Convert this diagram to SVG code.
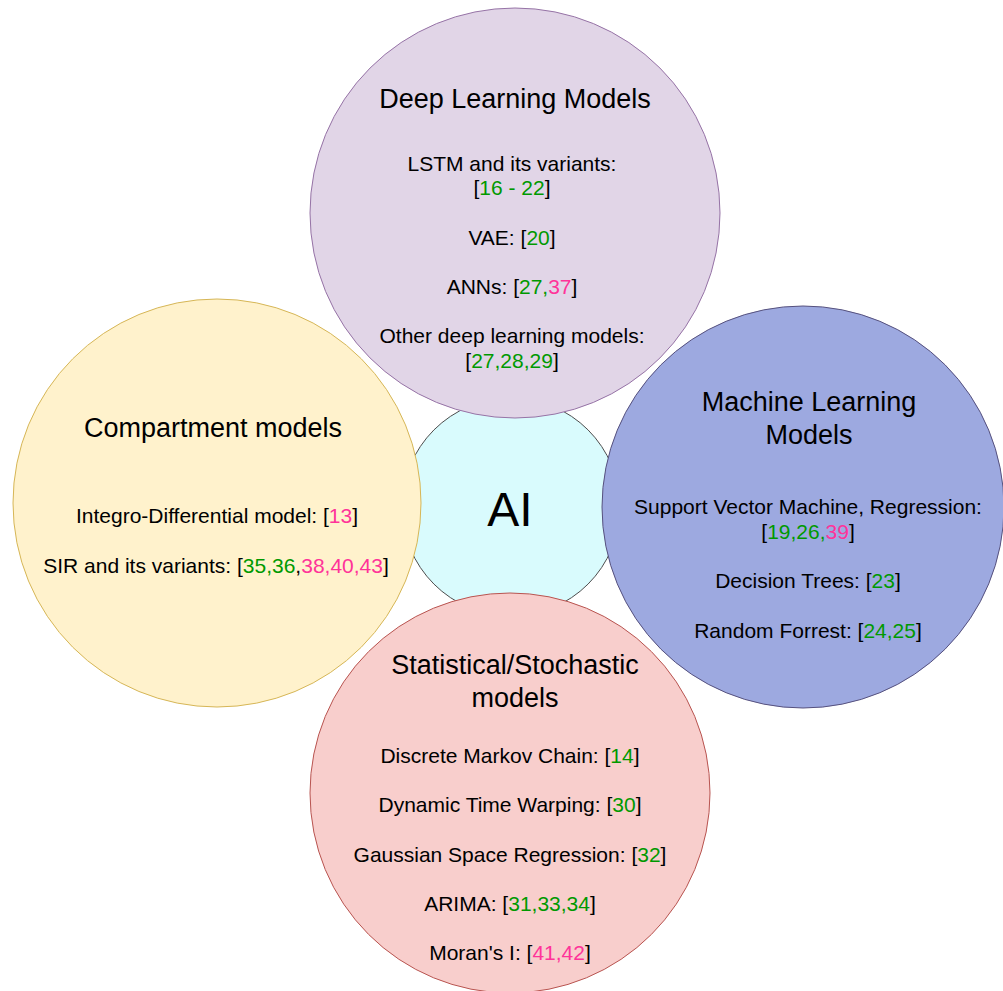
<svg xmlns="http://www.w3.org/2000/svg" width="1003" height="991" viewBox="0 0 1003 991">
<style>
text{font-family:"Liberation Sans",Arial,Helvetica,sans-serif;fill:#000;text-anchor:middle}
.t{font-size:27px}
.b{font-size:21px}
.ai{font-size:48px}
.g{fill:#009900}
.p{fill:#FF3399}
circle{stroke-width:1}
</style>
<rect width="1003" height="991" fill="#ffffff"/>
<g id="node-ai">
<circle cx="511" cy="507" r="109" fill="#d9fbfd" stroke="#4d4d4d"/>
<text class="ai" x="510" y="526">AI</text>
</g>
<g id="node-deep-learning">
<circle cx="515" cy="213" r="205" fill="#e1d5e7" stroke="#9673a6"/>
<text class="t" x="515" y="108">Deep Learning Models</text>
<text class="b" x="512" y="171">LSTM and its variants:</text>
<text class="b" x="512" y="195">[<tspan class="g">16 - 22</tspan>]</text>
<text class="b" x="512" y="245">VAE: [<tspan class="g">20</tspan>]</text>
<text class="b" x="512" y="294">ANNs: [<tspan class="g">27,</tspan><tspan class="p">37</tspan>]</text>
<text class="b" x="512" y="343">Other deep learning models:</text>
<text class="b" x="512" y="368">[<tspan class="g">27,28,29</tspan>]</text>
</g>
<g id="node-compartment">
<circle cx="217" cy="503" r="204" fill="#fff2cc" stroke="#d6b656"/>
<text class="t" x="213" y="437">Compartment models</text>
<text class="b" x="217" y="523">Integro-Differential model: [<tspan class="p">13</tspan>]</text>
<text class="b" x="216" y="573">SIR and its variants: [<tspan class="g">35,36</tspan>,<tspan class="p">38,40,43</tspan>]</text>
</g>
<g id="node-machine-learning">
<circle cx="803" cy="507" r="201" fill="#9da9e0" stroke="#56517e"/>
<text class="t" x="809" y="411">Machine Learning</text>
<text class="t" x="809" y="444">Models</text>
<text class="b" x="808" y="514">Support Vector Machine, Regression:</text>
<text class="b" x="808" y="539">[<tspan class="g">19,26,</tspan><tspan class="p">39</tspan>]</text>
<text class="b" x="808" y="588">Decision Trees: [<tspan class="g">23</tspan>]</text>
<text class="b" x="808" y="638">Random Forrest: [<tspan class="g">24,25</tspan>]</text>
</g>
<g id="node-statistical">
<circle cx="510" cy="793" r="200" fill="#f8cecc" stroke="#b85450"/>
<text class="t" x="515" y="674">Statistical/Stochastic</text>
<text class="t" x="515" y="707">models</text>
<text class="b" x="510" y="763">Discrete Markov Chain: [<tspan class="g">14</tspan>]</text>
<text class="b" x="510" y="812">Dynamic Time Warping: [<tspan class="g">30</tspan>]</text>
<text class="b" x="510" y="862">Gaussian Space Regression: [<tspan class="g">32</tspan>]</text>
<text class="b" x="510" y="911">ARIMA: [<tspan class="g">31,33,34</tspan>]</text>
<text class="b" x="510" y="960">Moran's I: [<tspan class="p">41,42</tspan>]</text>
</g>
<g id="connectors"></g>
</svg>
